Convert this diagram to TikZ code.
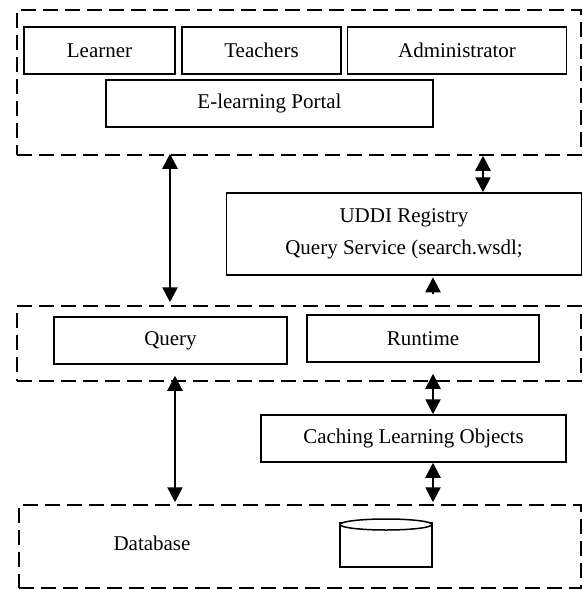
\documentclass[tikz,border=0pt]{standalone}
\usepackage{fontspec}
\setmainfont{Liberation Serif}
\usetikzlibrary{arrows.meta,shapes.geometric}

\tikzset{
	box/.style={draw,line width=1.5pt,inner sep=0pt,font=\fontsize{21}{32}\selectfont,align=center},
	zone/.style={draw,line width=1.5pt,inner sep=0pt,dash pattern=on 15pt off 7pt},
	dbl/.style={line width=2.3pt,{Triangle[length=15pt,width=15pt]}-{Triangle[length=15pt,width=15pt]}},
}

\begin{document}
\begin{tikzpicture}[x=1pt,y=-1pt]
\useasboundingbox (0,0) rectangle (582,590);

% Zonas punteadas
\node[zone,minimum width=564pt,minimum height=145pt] (portalzone) at (299,82.5) {};
\node[zone,minimum width=564pt,minimum height=75pt] (queryzone) at (299,343.5) {};
\node[zone,minimum width=562pt,minimum height=83pt] (datazone) at (300,546.5) {};

% Cajas
\node[box,minimum width=151pt,minimum height=47pt] (learner) at (99.5,50.5) {Learner};
\node[box,minimum width=159pt,minimum height=47pt] (teachers) at (261.5,50.5) {Teachers};
\node[box,minimum width=219pt,minimum height=47pt] (admin) at (457,50.5) {Administrator};
\node[box,minimum width=327pt,minimum height=47pt] (portal) at (269.5,103.5) {E-learning Portal};
\node[box,minimum width=355pt,minimum height=82pt] (uddi) at (404,234) {UDDI Registry\\Query Service (search.wsdl;};
\node[box,minimum width=233pt,minimum height=47pt] (query) at (170.5,340.5) {Query};
\node[box,minimum width=232pt,minimum height=47pt] (runtime) at (423,338.5) {Runtime};
\node[box,minimum width=305pt,minimum height=47pt] (caching) at (413.5,438.5) {Caching Learning Objects};
\node[font=\fontsize{21}{32}\selectfont] (database) at (152,543) {Database};
\node[draw,line width=1.5pt,inner sep=0pt,minimum width=92pt,minimum height=44pt] (disk) at (386,545) {};
\node[draw,line width=1.5pt,fill=white,ellipse,inner sep=0pt,minimum width=92pt,minimum height=11pt] (disktop) at (386,524.5) {};

% Flechas
\coordinate (xleft) at (170,0);
\coordinate (xright) at (483,0);
\coordinate (xmid) at (433,0);
\coordinate (xlow) at (175,0);
\draw[dbl,shorten <=-2pt,shorten >=3pt] (portalzone.south -| xleft) -- (queryzone.north -| xleft);
\draw[dbl] (portalzone.south -| xright) -- (uddi.north -| xright);
\draw[line width=2.3pt,-{Triangle[length=15pt,width=15pt]},shorten <=11pt,shorten >=1.5pt] (queryzone.north -| xmid) -- (uddi.south -| xmid);
\draw[dbl,shorten <=-6pt,shorten >=2pt] (queryzone.south -| xlow) -- (datazone.north -| xlow);
\draw[dbl,shorten <=-8pt] (queryzone.south -| xmid) -- (caching.north -| xmid);
\draw[dbl,shorten >=2pt] (caching.south -| xmid) -- (datazone.north -| xmid);
\end{tikzpicture}
\end{document}
